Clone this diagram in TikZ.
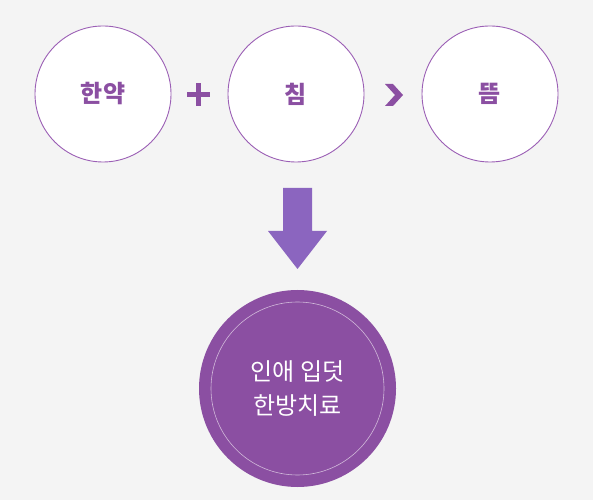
\documentclass[tikz,border=0pt]{standalone}
\usepackage{fontspec}
\usetikzlibrary{calc}
\newfontfamily\kr{Noto Sans CJK KR}
\definecolor{bg}{HTML}{F4F4F4}
\definecolor{purp}{HTML}{8B4FA2}
\definecolor{ring}{HTML}{9B5FB5}
\definecolor{arrowc}{HTML}{8B65BF}
\tikzset{
  small/.style={circle, draw=ring, line width=0.9pt, fill=white, minimum size=136pt, inner sep=0pt,
    font=\kr\bfseries\fontsize{24}{28}\selectfont, text=purp},
}
\begin{document}
\begin{tikzpicture}[x=1pt,y=1pt]
\fill[bg] (0,0) rectangle (593,500);
\useasboundingbox (0,0) rectangle (593,500);
\node[small] (a) at (103,406) {한약};
\node[small] (b) at (296,406) {침};
\node[small] (c) at (490,406) {뜸};
% plus
\node[inner sep=0pt, minimum size=24pt] (plus) at (198.5,405) {};
\fill[purp] ($(plus)+(-11.5,-2.5)$) rectangle ($(plus)+(11.5,2.5)$);
\fill[purp] ($(plus)+(-2.5,-11.5)$) rectangle ($(plus)+(2.5,11.5)$);
% chevron
\node[inner sep=0pt, minimum size=22pt] (chev) at (394,405) {};
\fill[purp] ($(chev)+(-9,11)$) -- ($(chev)+(-1,11)$) -- ($(chev)+(9,0)$) -- ($(chev)+(-1,-11)$) -- ($(chev)+(-9,-11)$) -- ($(chev)+(1,0)$) -- cycle;
% down arrow
\node[inner sep=0pt, minimum width=59pt, minimum height=81pt] (arr) at (297.5,271.5) {};
\fill[arrowc] (283,312) -- (312,312) -- (312,269) -- (327,269) -- (297.5,231) -- (268,269) -- (283,269) -- cycle;
% result
\node[circle, fill=purp, minimum size=197pt, inner sep=0pt] (res) at (297.5,111.5) {};
\node[circle, draw=white!60!purp, line width=0.6pt, minimum size=173pt, inner sep=0pt, align=center,
  font=\kr\fontsize{24}{34}\selectfont, text=white] (txt) at (res.center) {인애 입덧\\한방치료};
\end{tikzpicture}
\end{document}
